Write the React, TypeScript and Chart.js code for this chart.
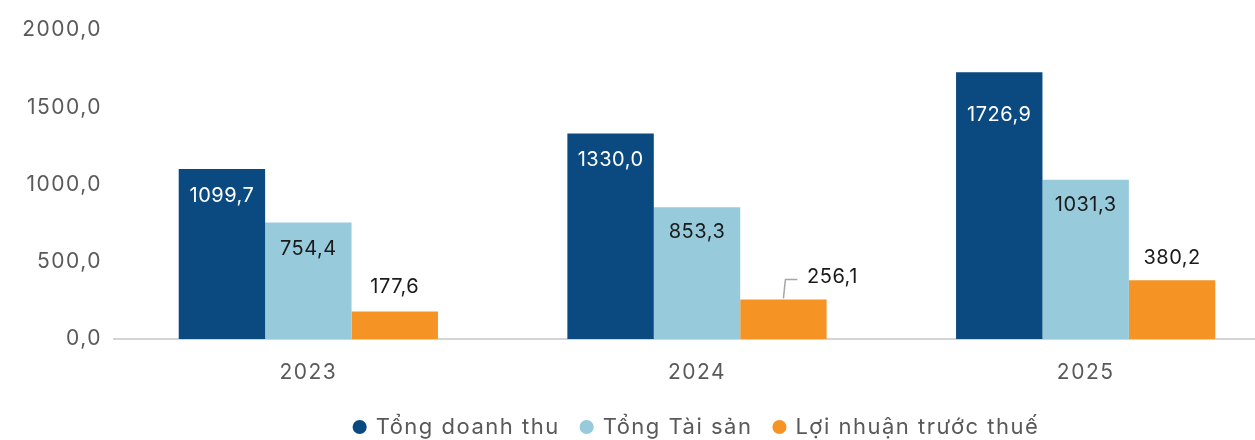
import React, { useEffect, useRef } from "react";
import { Chart, registerables } from "chart.js";
Chart.register(...registerables);

const categories = ["2023", "2024", "2025"];
const seriesNames = ["Tổng doanh thu", "Tổng Tài sản", "Lợi nhuận trước thuế"];
const revenue = [1099.7, 1330.0, 1726.9];
const assets = [754.4, 853.3, 1031.3];
const profit = [177.6, 256.1, 380.2];
const yTicks = [0, 500, 1000, 1500, 2000];

const COLORS = ["#0A4A80", "#97CADB", "#F59324"];
const LABEL_COLORS = ["#FFFFFF", "#1A1A1A", "#1A1A1A"];
const FONT = "Inter, 'Open Sans', sans-serif";
const GREY = "#595959";

const fmt = (v: number) => v.toFixed(1).replace(".", ",");

// label placement relative to bar top (dx, dy); leader = draw connector line
const labelPlacement: Record<string, { dx: number; dy: number; leader?: boolean }> = {
  "0-0": { dx: 0, dy: 27 },
  "0-1": { dx: 0, dy: 26 },
  "0-2": { dx: 0, dy: 43 },
  "1-0": { dx: 0, dy: 27 },
  "1-1": { dx: 0, dy: 25 },
  "1-2": { dx: 0, dy: 25 },
  "2-0": { dx: 0, dy: -25 },
  "2-1": { dx: 49, dy: -22, leader: true },
  "2-2": { dx: 0, dy: -22 },
};

const spacingPlugin = {
  id: "letterSpacing",
  beforeUpdate(chart: any) {
    chart.ctx.letterSpacing = "1.5px";
  },
  beforeDraw(chart: any) {
    chart.ctx.letterSpacing = "1.5px";
  },
};

const labelPlugin = {
  id: "barLabels",
  afterDatasetsDraw(chart: any) {
    const ctx = chart.ctx;
    ctx.save();
    ctx.letterSpacing = "0.5px";
    ctx.font = `20px ${FONT}`;
    ctx.textAlign = "center";
    ctx.textBaseline = "middle";
    chart.data.datasets.forEach((ds: any, di: number) => {
      const meta = chart.getDatasetMeta(di);
      meta.data.forEach((el: any, i: number) => {
        const v = ds.data[i] as number;
        const p = labelPlacement[`${di}-${i}`] || { dx: 0, dy: -22 };
        const x = el.x + p.dx;
        const y = el.y + p.dy;
        if (p.leader) {
          ctx.strokeStyle = "#A6A6A6";
          ctx.lineWidth = 1.5;
          ctx.beginPath();
          ctx.moveTo(el.x, el.y - 1);
          ctx.lineTo(el.x + 2, el.y - 20);
          ctx.lineTo(el.x + 14, el.y - 20);
          ctx.stroke();
        }
        ctx.fillStyle = LABEL_COLORS[di];
        ctx.fillText(fmt(v), x, y);
      });
    });
    ctx.restore();
  },
};

export default function App() {
  const ref = useRef<HTMLCanvasElement | null>(null);
  useEffect(() => {
    if (!ref.current) return;
    const chart = new Chart(ref.current, {
      type: "bar",
      data: {
        labels: categories,
        datasets: [revenue, assets, profit].map((d, i) => ({
          label: seriesNames[i],
          data: d,
          backgroundColor: COLORS[i],
          borderWidth: 0,
          categoryPercentage: 0.667,
          barPercentage: 1.0,
        })),
      },
      options: {
        responsive: false,
        animation: false,
        devicePixelRatio: 1,
        layout: { padding: { top: 30, right: 0, bottom: 0, left: 0 } },
        plugins: {
          tooltip: { enabled: false },
          legend: {
            position: "bottom",
            fullSize: false,
            labels: {
              usePointStyle: true,
              pointStyle: "circle",
              boxWidth: 10,
              boxHeight: 10,
              padding: 22,
              color: GREY,
              font: { family: FONT, size: 22 },
            },
          },
        },
        scales: {
          x: {
            grid: { display: false, drawTicks: false },
            border: { display: true, color: "#D4D4D4", width: 2 },
            ticks: { color: GREY, font: { family: FONT, size: 21 }, padding: 21 },
            afterFit: (s: any) => {
              s.height = 55;
            },
          },
          y: {
            min: 0,
            max: 2000,
            afterBuildTicks: (s: any) => {
              s.ticks = yTicks.map((v) => ({ value: v }));
            },
            grid: { display: false, drawTicks: false },
            border: { display: false },
            ticks: {
              color: GREY,
              font: { family: FONT, size: 21 },
              padding: 12,
              callback: (v: any) => fmt(Number(v)),
            },
            afterFit: (s: any) => {
              s.width = 114;
            },
          },
        },
      },
      plugins: [spacingPlugin, labelPlugin],
    });
    return () => chart.destroy();
  }, []);
  return (
    <div
      style={{
        position: "fixed",
        left: 0,
        top: 0,
        width: 1255,
        height: 440,
        overflow: "hidden",
        background: "#fff",
      }}
    >
      <canvas ref={ref} width={1280} height={448} style={{ width: 1280, height: 448, display: "block" }} />
    </div>
  );
}
